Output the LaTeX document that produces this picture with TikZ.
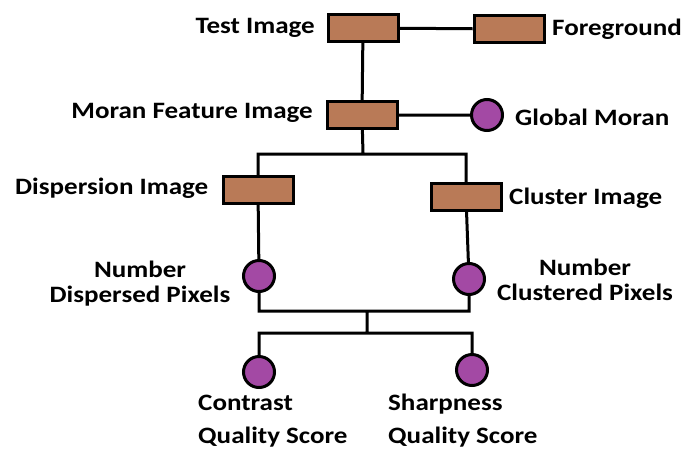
\documentclass[tikz,border=0pt]{standalone}
\usepackage{fontspec}
\setmainfont{Carlito}[FakeStretch=1.15]
\definecolor{boxbrown}{RGB}{185,122,87}
\definecolor{dotpurple}{RGB}{163,73,164}
\begin{document}
\begin{tikzpicture}[x=1pt,y=-1pt,
		imgbox/.style={draw=black, fill=boxbrown, line width=3pt, minimum width=70pt, minimum height=27pt, inner sep=0pt},
		valdot/.style={draw=black, fill=dotpurple, line width=3pt, circle, minimum size=31pt, inner sep=0pt},
		lbl/.style={font=\bfseries\fontsize{23.5}{25}\selectfont, inner sep=0pt},
		link/.style={line width=3pt}]
	\useasboundingbox (0,0) rectangle (684,450);
	% boxes and dots
	\node[imgbox] (test) at (363,28) {};
	\node[imgbox] (fg) at (509,29) {};
	\node[imgbox] (moran) at (362,115) {};
	\node[valdot] (glob) at (487,115) {};
	\node[imgbox] (disp) at (258,190) {};
	\node[imgbox] (clus) at (466,197) {};
	\node[valdot] (ndisp) at (259,276) {};
	\node[valdot] (nclus) at (469,279) {};
	\node[valdot] (contr) at (259,372) {};
	\node[valdot] (sharp) at (472,370) {};
	% joints
	\coordinate (j1) at (363,154);
	\coordinate (j2) at (367,311);
	\coordinate (j3) at (367,333);
	% labels
	\node[lbl, anchor=east] (ltest) at (315,28) {Test Image};
	\node[lbl, anchor=west] (lfg) at (552,29) {Foreground};
	\node[lbl, anchor=east] (lmoran) at (313,113) {Moran Feature Image};
	\node[lbl, anchor=west] (lglob) at (515,117) {Global Moran};
	\node[lbl, anchor=west] (ldisp) at (15,188) {Dispersion Image};
	\node[lbl, anchor=west] (lclus) at (509,198) {Cluster Image};
	\node[lbl, align=center] (lndisp) at (140,284) {Number\\Dispersed Pixels};
	\node[lbl, align=center] (lnclus) at (585,280) {Number\\Clustered Pixels};
	\node[lbl, align=left, anchor=west] (lcontr) at (198,421) {Contrast\\[8pt]Quality Score};
	\node[lbl, align=left, anchor=west] (lsharp) at (388,421) {Sharpness\\[8pt]Quality Score};
	% connectors
	\draw[link] (test) -- (fg)
		(test) -- (moran)
		(moran) -- (glob)
		(moran) -- (j1)
		(disp.north) |- (j1) -| (clus.north)
		(disp) -- (ndisp)
		(clus) -- (nclus)
		(ndisp.south) |- (j2) -| (nclus.south)
		(j2) -- (j3)
		(contr.north) |- (j3) -| (sharp.north);
\end{tikzpicture}
\end{document}
